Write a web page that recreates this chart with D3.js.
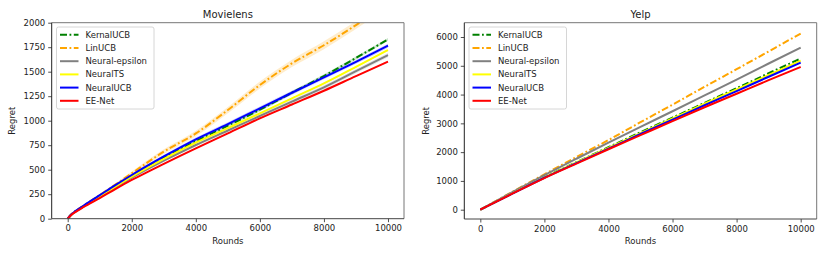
<!DOCTYPE html>
<html>
<head>
<meta charset="utf-8">
<script src="https://cdn.jsdelivr.net/npm/d3@7/dist/d3.min.js"></script>
<style>
  body { margin: 0; background: #fff; }
  svg { font-family: "DejaVu Sans", sans-serif; }
</style>
</head>
<body>
<svg id="chart" width="830" height="257"></svg>
<script>
const seriesNames = ['KernalUCB', 'LinUCB', 'Neural-epsilon', 'NeuralTS', 'NeuralUCB', 'EE-Net'];
const seriesColors = ['green', 'orange', 'gray', 'yellow', 'blue', 'red'];
const dashed = [true, true, false, false, false, false];

// Movielens
const movieRounds = [0, 100, 250, 500, 1000, 1500, 2000, 3000, 4000, 5000, 6000, 7000, 8000, 9000, 10000];
const movieKernal = [0, 38, 77, 130, 235, 340, 440, 620, 790, 950, 1112, 1285, 1456, 1640, 1830];
const movieLin = [0, 40, 80, 135, 242, 350, 463, 684, 870, 1109, 1364, 1585, 1770, 1976, 2200];
const movieEps = [0, 36, 73, 125, 222, 322, 418, 592, 752, 900, 1048, 1195, 1340, 1505, 1670];
const movieTS = [0, 37, 75, 127, 228, 330, 429, 610, 776, 925, 1075, 1228, 1381, 1550, 1721];
const movieUCB = [0, 40, 80, 135, 240, 345, 446, 635, 810, 965, 1126, 1285, 1442, 1600, 1765];
const movieEE = [0, 35, 70, 120, 210, 305, 395, 560, 718, 870, 1024, 1165, 1306, 1455, 1602];
// spread of the shaded bands (Movielens)
const movieKernalStd = [0, 3, 4, 5, 6, 8, 10, 12, 14, 16, 18, 18, 18, 16, 14];
const movieLinStd = [0, 3, 5, 8, 10, 14, 18, 24, 28, 32, 36, 38, 40, 40, 40];
const movieEpsStd = [0, 3, 4, 6, 8, 10, 12, 14, 16, 18, 20, 22, 22, 22, 22];
const movieTSStd = [0, 2, 3, 4, 5, 6, 7, 8, 9, 10, 10, 10, 10, 10, 10];
const movieUCBStd = [0, 3, 4, 6, 8, 10, 12, 15, 18, 20, 20, 20, 20, 20, 20];
const movieEEStd = [0, 1, 2, 2, 3, 3, 4, 4, 5, 5, 5, 5, 5, 5, 5];

// Yelp
const yelpRounds = [0, 1000, 2000, 3000, 4000, 5000, 6000, 7000, 8000, 9000, 10000];
const yelpKernal = [0, 570, 1130, 1650, 2170, 2690, 3200, 3710, 4220, 4740, 5250];
const yelpLin = [0, 620, 1230, 1830, 2420, 3040, 3650, 4270, 4880, 5500, 6120];
const yelpEps = [0, 610, 1200, 1770, 2330, 2880, 3420, 3970, 4520, 5080, 5630];
const yelpTS = [0, 565, 1120, 1640, 2150, 2660, 3170, 3680, 4180, 4680, 5180];
const yelpUCB = [0, 560, 1110, 1620, 2120, 2630, 3130, 3630, 4120, 4620, 5110];
const yelpEE = [0, 555, 1100, 1600, 2100, 2590, 3080, 3560, 4030, 4500, 4960];

const xTicks = [0, 2000, 4000, 6000, 8000, 10000];
const movieYTicks = [0, 250, 500, 750, 1000, 1250, 1500, 1750, 2000];
const yelpYTicks = [0, 1000, 2000, 3000, 4000, 5000, 6000];

const svg = d3.select('#chart');

function drawPanel(opts) {
  const { id, left, right, top, bottom, title, xDomain, yDomain, yTicks, rounds, values, stds, labelX, legendX, legendW } = opts;
  const x = d3.scaleLinear().domain(xDomain).range([left, right]);
  const y = d3.scaleLinear().domain(yDomain).range([bottom, top]);
  const g = svg.append('g');

  g.append('clipPath').attr('id', 'clip-' + id)
    .append('rect')
    .attr('x', left).attr('y', top)
    .attr('width', right - left).attr('height', bottom - top);

  const plot = g.append('g').attr('clip-path', `url(#clip-${id})`);

  if (stds) {
    const area = d3.area()
      .x(d => x(d.r))
      .y0(d => y(d.v - d.s))
      .y1(d => y(d.v + d.s))
      .curve(d3.curveMonotoneX);
    values.forEach((vals, i) => {
      const pts = rounds.map((r, j) => ({ r, v: vals[j], s: stds[i][j] }));
      plot.append('path')
        .attr('d', area(pts))
        .attr('fill', seriesColors[i])
        .attr('opacity', 0.2);
    });
  }

  const line = d3.line().x(d => x(d.r)).y(d => y(d.v)).curve(d3.curveMonotoneX);
  values.forEach((vals, i) => {
    const pts = rounds.map((r, j) => ({ r, v: vals[j] }));
    plot.append('path')
      .attr('d', line(pts))
      .attr('fill', 'none')
      .attr('stroke', seriesColors[i])
      .attr('stroke-width', 2)
      .attr('stroke-dasharray', dashed[i] ? '7,2.5,1.8,2.5' : null);
  });

  // axes
  const xAxis = d3.axisBottom(x).tickValues(xTicks).tickFormat(d3.format('d')).tickSize(3.5).tickPadding(3);
  const yAxis = d3.axisLeft(y).tickValues(yTicks).tickFormat(d3.format('d')).tickSize(3.5).tickPadding(3);
  const xg = g.append('g').attr('transform', `translate(0,${bottom})`).call(xAxis);
  const yg = g.append('g').attr('transform', `translate(${left},0)`).call(yAxis);
  [xg, yg].forEach(a => {
    a.select('.domain').remove();
    a.selectAll('text').attr('font-size', 8.5).attr('fill', '#222').attr('font-family', 'DejaVu Sans');
    a.selectAll('line').attr('stroke', '#222').attr('stroke-width', 0.8);
  });

  // frame
  g.append('line').attr('x1', left).attr('x2', right).attr('y1', top).attr('y2', top).attr('stroke', '#777').attr('stroke-width', 1);
  g.append('line').attr('x1', right).attr('x2', right).attr('y1', top).attr('y2', bottom).attr('stroke', '#777').attr('stroke-width', 1);
  g.append('line').attr('x1', left).attr('x2', left).attr('y1', top).attr('y2', bottom).attr('stroke', '#222').attr('stroke-width', 1);
  g.append('line').attr('x1', left).attr('x2', right).attr('y1', bottom).attr('y2', bottom).attr('stroke', '#444').attr('stroke-width', 1);

  g.append('text')
    .attr('x', (left + right) / 2).attr('y', top - 5)
    .attr('text-anchor', 'middle').attr('font-size', 10).attr('fill', '#222')
    .text(title);
  g.append('text')
    .attr('x', (left + right) / 2).attr('y', 244)
    .attr('text-anchor', 'middle').attr('font-size', 8.5).attr('fill', '#222')
    .text('Rounds');
  g.append('text')
    .attr('transform', `translate(${labelX},${(top + bottom) / 2}) rotate(-90)`)
    .attr('text-anchor', 'middle').attr('font-size', 8.5).attr('fill', '#222')
    .text('Regret');

  // legend
  const lg = g.append('g').attr('transform', `translate(${legendX},27)`);
  lg.append('rect')
    .attr('width', legendW).attr('height', 82).attr('rx', 2)
    .attr('fill', '#fff').attr('fill-opacity', 0.8)
    .attr('stroke', '#ccc').attr('stroke-width', 0.8);
  seriesNames.forEach((name, i) => {
    const yy = 7.8 + i * 13.2;
    lg.append('line')
      .attr('x1', 3.5).attr('x2', 22).attr('y1', yy).attr('y2', yy)
      .attr('stroke', seriesColors[i]).attr('stroke-width', 2)
      .attr('stroke-dasharray', dashed[i] ? '7,2.5,1.8,2.5' : null);
    lg.append('text')
      .attr('x', 29).attr('y', yy + 3)
      .attr('font-size', 8.5).attr('fill', '#222')
      .text(name);
  });
}

drawPanel({
  id: 'movie', left: 51.7, right: 404, top: 22.7, bottom: 218.7,
  title: 'Movielens', xDomain: [-500, 10500], yDomain: [0, 2000], yTicks: movieYTicks,
  rounds: movieRounds,
  values: [movieKernal, movieLin, movieEps, movieTS, movieUCB, movieEE],
  stds: [movieKernalStd, movieLinStd, movieEpsStd, movieTSStd, movieUCBStd, movieEEStd],
  labelX: 15, legendX: 56.5, legendW: 97.5,
});

drawPanel({
  id: 'yelp', left: 464.3, right: 816.7, top: 22.7, bottom: 219,
  title: 'Yelp', xDomain: [-500, 10500], yDomain: [-323, 6497], yTicks: yelpYTicks,
  rounds: yelpRounds,
  values: [yelpKernal, yelpLin, yelpEps, yelpTS, yelpUCB, yelpEE],
  stds: null,
  labelX: 429, legendX: 469, legendW: 97.5,
});
</script>
</body>
</html>
